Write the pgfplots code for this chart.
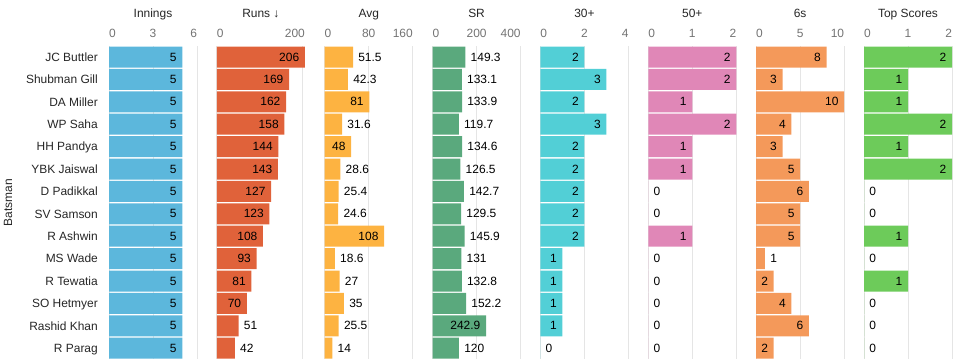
\documentclass[border=0pt]{standalone}
\usepackage{pgfplots}
\usepackage{pgfplotstable}
\pgfplotsset{compat=1.18}
\usepackage{fontspec}
\setmainfont{Liberation Sans}
\definecolor{cinn}{HTML}{5CB7DC}
\definecolor{cruns}{HTML}{E0623A}
\definecolor{cavg}{HTML}{FDB341}
\definecolor{csr}{HTML}{5AA97D}
\definecolor{cthirty}{HTML}{52CFD6}
\definecolor{cfifty}{HTML}{E087B7}
\definecolor{csix}{HTML}{F4995A}
\definecolor{ctop}{HTML}{6DCB5A}
\newcommand{\fnt}{\fontsize{12}{14}\selectfont}
% \I = label inside the bar end, \O = label just outside the bar end
\protected\def\I#1{#1}
\protected\def\O#1{\makebox[0pt][l]{\kern11bp #1}}
\pgfplotstableread{
i inn runs avg sr thirty fifty six top lI lR lA lS lT lF lX lP
0 5 206 51.5 149.3 2 2 8 2 \I{5} \I{206} \O{51.5} \O{149.3} \I{2} \I{2} \I{8} \I{2}
1 5 169 42.3 133.1 3 2 3 1 \I{5} \I{169} \O{42.3} \O{133.1} \I{3} \I{2} \I{3} \I{1}
2 5 162 81 133.9 2 1 10 1 \I{5} \I{162} \I{81} \O{133.9} \I{2} \I{1} \I{10} \I{1}
3 5 158 31.6 119.7 3 2 4 2 \I{5} \I{158} \O{31.6} \O{119.7} \I{3} \I{2} \I{4} \I{2}
4 5 144 48 134.6 2 1 3 1 \I{5} \I{144} \I{48} \O{134.6} \I{2} \I{1} \I{3} \I{1}
5 5 143 28.6 126.5 2 1 5 2 \I{5} \I{143} \O{28.6} \O{126.5} \I{2} \I{1} \I{5} \I{2}
6 5 127 25.4 142.7 2 0 6 0 \I{5} \I{127} \O{25.4} \O{142.7} \I{2} \O{0} \I{6} \O{0}
7 5 123 24.6 129.5 2 0 5 0 \I{5} \I{123} \O{24.6} \O{129.5} \I{2} \O{0} \I{5} \O{0}
8 5 108 108 145.9 2 1 5 1 \I{5} \I{108} \I{108} \O{145.9} \I{2} \I{1} \I{5} \I{1}
9 5 93 18.6 131 1 0 1 0 \I{5} \I{93} \O{18.6} \O{131} \I{1} \O{0} \O{1} \O{0}
10 5 81 27 132.8 1 0 2 1 \I{5} \I{81} \O{27} \O{132.8} \I{1} \O{0} \I{2} \I{1}
11 5 70 35 152.2 1 0 4 0 \I{5} \I{70} \O{35} \O{152.2} \I{1} \O{0} \I{4} \O{0}
12 5 51 25.5 242.9 1 0 6 0 \I{5} \O{51} \O{25.5} \I{242.9} \I{1} \O{0} \I{6} \O{0}
13 5 42 14 120 0 0 2 0 \I{5} \O{42} \O{14} \O{120} \O{0} \O{0} \I{2} \O{0}
}\data
\pgfplotsset{panel/.style={
  scale only axis, width=88bp, height=313.6bp, anchor=south west,
  xmin=0, ymin=-0.5, ymax=13.5, y dir=reverse,
  ytick=\empty,
  xbar, bar width=21bp, bar shift=0pt,
  axis line style={draw=none}, major tick length=0pt, tick style={draw=none},
  xmajorgrids, grid style={draw=black!10, line width=1bp},
  xticklabel pos=upper,
  xticklabel style={anchor=base, yshift=8bp, font=\fnt, text=black!55, inner sep=0pt},
  title style={at={(0.5,1)}, anchor=base, yshift=22.5bp, font=\fnt, text=black!85, inner sep=0pt},
  point meta=explicit symbolic,
  nodes near coords={\pgfplotspointmeta},
  nodes near coords style={font=\fnt, text=black, anchor=east, inner ysep=0pt, inner xsep=5.5bp},
  clip=false,
}}
\newcommand{\panel}[7]{%
\begin{axis}[panel, xmax=#5, xtick={#6}, xticklabels={#7}, #1]
\addplot[fill=#4, draw=none] table[x=#2, y=i, meta=#3]{\data};
\end{axis}}
\begin{document}
\begin{tikzpicture}
\useasboundingbox (0bp,0bp) rectangle (967bp,363bp);
\panel{at={(109bp,3.6bp)}, title={Innings},
  ytick={0,...,13},
  yticklabels={JC Buttler,Shubman Gill,DA Miller,WP Saha,HH Pandya,YBK Jaiswal,D Padikkal,SV Samson,R Ashwin,MS Wade,R Tewatia,SO Hetmyer,Rashid Khan,R Parag},
  yticklabel style={anchor=base east, yshift=-4.3bp, xshift=-11bp, inner sep=0pt, font=\fnt, text=black!85},
  ylabel={Batsman}, ylabel style={at={(axis description cs:-1.1477,0.5)}, anchor=center, font=\fnt, text=black!85}}
  {inn}{lI}{cinn}{6}{0,3,6}{\makebox[0pt][l]{0},3,\makebox[0pt][r]{6}}
\panel{at={(216.86bp,3.6bp)}, title={Runs ↓}}
  {runs}{lR}{cruns}{206}{0,200}{\makebox[0pt][l]{0},\makebox[0pt][r]{200\kern-2.6bp}}
\panel{at={(324.71bp,3.6bp)}, title={Avg}}
  {avg}{lA}{cavg}{160}{0,80,160}{\makebox[0pt][l]{0},80,\makebox[0pt][r]{160}}
\panel{at={(432.57bp,3.6bp)}, title={SR}}
  {sr}{lS}{csr}{400}{0,200,400}{\makebox[0pt][l]{0},200,\makebox[0pt][r]{400}}
\panel{at={(540.43bp,3.6bp)}, title={30+}}
  {thirty}{lT}{cthirty}{4}{0,2,4}{\makebox[0pt][l]{0},2,\makebox[0pt][r]{4}}
\panel{at={(648.29bp,3.6bp)}, title={50+}}
  {fifty}{lF}{cfifty}{2}{0,1,2}{\makebox[0pt][l]{0},1,\makebox[0pt][r]{2}}
\panel{at={(756.14bp,3.6bp)}, title={6s}}
  {six}{lX}{csix}{10}{0,5,10}{\makebox[0pt][l]{0},5,\makebox[0pt][r]{10}}
\panel{at={(864bp,3.6bp)}, title={Top Scores}}
  {top}{lP}{ctop}{2}{0,1,2}{\makebox[0pt][l]{0},1,\makebox[0pt][r]{2}}
\end{tikzpicture}
\end{document}
